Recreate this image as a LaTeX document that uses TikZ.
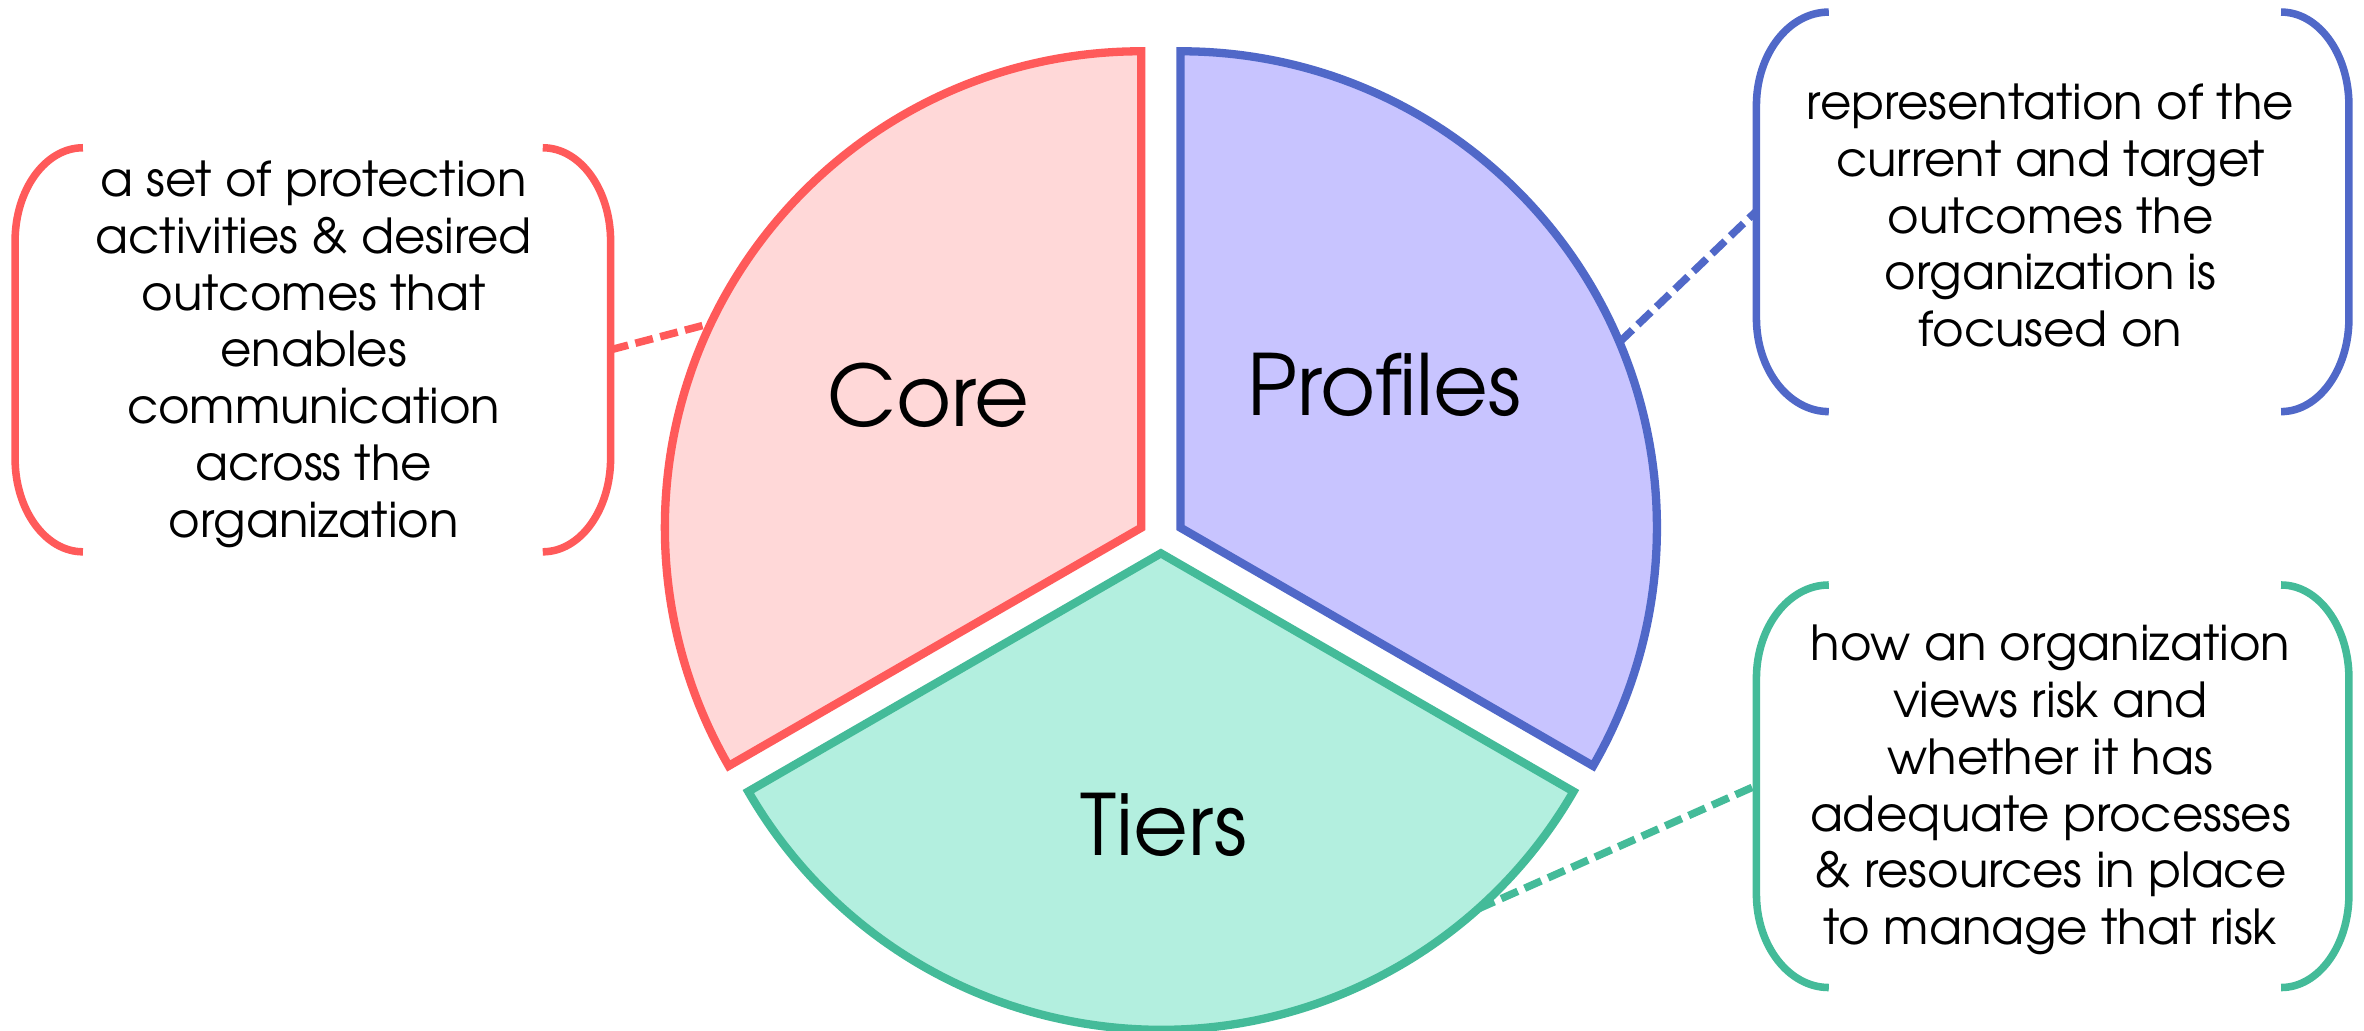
\documentclass[tikz,border=0pt]{standalone}
\usepackage{fontspec}
\setmainfont{TeX Gyre Adventor}
\usetikzlibrary{calc}
\definecolor{redS}{HTML}{FF5A5A}
\definecolor{redF}{HTML}{FFD8D8}
\definecolor{bluS}{HTML}{5068C8}
\definecolor{bluF}{HTML}{C8C4FF}
\definecolor{grnS}{HTML}{44BB99}
\definecolor{grnF}{HTML}{B3EFDF}
\begin{document}
\begin{tikzpicture}[x=1pt,y=1pt,
  sector/.style={line width=5.5pt,line join=miter},
  bracket/.style={line width=5pt},
  link/.style={line width=5pt,dash pattern=on 12pt off 5pt},
  desc/.style={align=center,inner sep=0pt,font=\fontsize{32}{37.7}\selectfont},
  biglabel/.style={inner sep=0pt,font=\fontsize{56}{60}\selectfont}]
\useasboundingbox[fill=white] (0,0) rectangle (1568,-683.8);
% centres of the exploded pie
\coordinate (coreC) at (757,-350);
\coordinate (profC) at (783,-350);
\coordinate (tierC) at (770,-367);
% sectors
\draw[sector,draw=redS,fill=redF] (coreC) -- ++(90:316pt) arc[start angle=90,end angle=210,radius=316pt] -- cycle;
\draw[sector,draw=bluS,fill=bluF] (profC) -- ++(90:316pt) arc[start angle=90,end angle=-30,radius=316pt] -- cycle;
\draw[sector,draw=grnS,fill=grnF] (tierC) -- ++(210:316pt) arc[start angle=210,end angle=330,radius=316pt] -- cycle;
% labels
\node[biglabel] (core) at (616,-262) {Core};
\node[biglabel] (prof) at (918,-255) {Profiles};
\node[biglabel] (tier) at (772,-547) {Tiers};
% description texts
\node[desc] (coreT) at (208,-235) {a set of protection\\activities \& desired\\outcomes that\\enables\\communication\\across the\\organization};
\node[desc] (profT) at (1360,-143) {representation of the\\current and target\\outcomes the\\organization is\\focused on};
\node[desc] (tierT) at (1360,-524) {how an organization\\views risk and\\whether it has\\adequate processes\\\& resources in place\\to manage that risk};
% brackets
\draw[bracket,redS] (55,-98) arc[start angle=90,end angle=180,x radius=45pt,y radius=62pt] -- (10,-304) arc[start angle=180,end angle=270,x radius=45pt,y radius=62pt];
\draw[bracket,redS] (360,-98) arc[start angle=90,end angle=0,x radius=45pt,y radius=62pt] -- (405,-304) arc[start angle=0,end angle=-90,x radius=45pt,y radius=62pt];
\draw[bracket,bluS] (1213,-8) arc[start angle=90,end angle=180,x radius=48pt,y radius=62pt] -- (1165,-211) arc[start angle=180,end angle=270,x radius=48pt,y radius=62pt];
\draw[bracket,bluS] (1513,-8) arc[start angle=90,end angle=0,x radius=45pt,y radius=62pt] -- (1558,-211) arc[start angle=0,end angle=-90,x radius=45pt,y radius=62pt];
\draw[bracket,grnS] (1213,-388) arc[start angle=90,end angle=180,x radius=48pt,y radius=62pt] -- (1165,-593) arc[start angle=180,end angle=270,x radius=48pt,y radius=62pt];
\draw[bracket,grnS] (1513,-388) arc[start angle=90,end angle=0,x radius=45pt,y radius=62pt] -- (1558,-593) arc[start angle=0,end angle=-90,x radius=45pt,y radius=62pt];
% connector ends
\coordinate (coreB) at (405,-232);
\coordinate (coreA) at ($(coreC)+(154.6:316pt)$);
\coordinate (profB) at (1165,-140);
\coordinate (profA) at ($(profC)+(22.9:316pt)$);
\coordinate (tierB) at (1165,-521);
\coordinate (tierA) at ($(tierC)+(-48.3:316pt)$);
\draw[link,redS] (coreB) -- (coreA);
\draw[link,bluS] (profA) -- (profB);
\draw[link,grnS] (tierA) -- (tierB);
\end{tikzpicture}
\end{document}
